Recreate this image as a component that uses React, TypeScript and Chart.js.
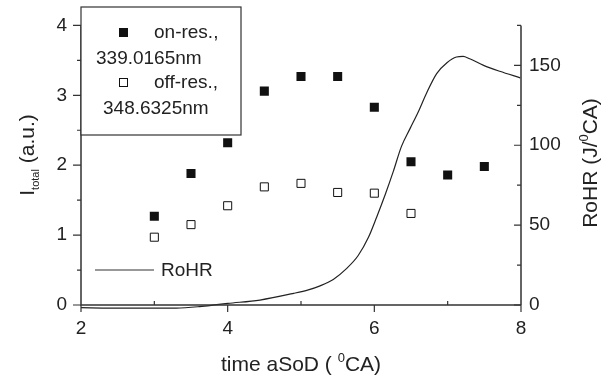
import React, { useEffect, useRef } from "react";
import { Chart, registerables } from "chart.js";

Chart.register(...registerables);

// ---- data ----
const onX = [3, 3.5, 4, 4.5, 5, 5.5, 6, 6.5, 7, 7.5];
const onY = [1.27, 1.88, 2.32, 3.06, 3.27, 3.27, 2.83, 2.05, 1.86, 1.98];
const offX = [3, 3.5, 4, 4.5, 5, 5.5, 6, 6.5];
const offY = [0.97, 1.15, 1.42, 1.69, 1.74, 1.61, 1.6, 1.31];
const rohrX = [2.0, 2.4, 2.85, 3.3, 3.62, 3.85, 4.0, 4.44, 4.9, 5.1, 5.26, 5.44, 5.62, 5.78, 5.92, 6.03, 6.15, 6.26, 6.37, 6.49, 6.6, 6.71, 6.85, 6.99, 7.12, 7.21, 7.3, 7.49, 7.71, 7.99];
const rohrY = [-1.7, -2, -1.9, -1.9, -1, 0.2, 1, 3.1, 7.3, 9.5, 12, 16, 22.8, 31, 42.4, 54.8, 69.3, 83.8, 99.3, 110.7, 121, 132.4, 144.8, 151.6, 155.2, 155.6, 154.1, 150, 146.3, 142.2];

const xTicks = [2, 4, 6, 8];
const xMinor = [3, 5, 7];
const yTicks = [0, 1, 2, 3, 4];
const yMinor = [0.5, 1.5, 2.5, 3.5];
const y2Ticks = [0, 50, 100, 150];
const y2Minor = [25, 75, 125, 175];

const onLabel = ["on-res.,", "339.0165nm"];
const offLabel = ["off-res.,", "348.6325nm"];
const rohrLabel = "RoHR";

const FONT = "'Liberation Sans', Arial, Helvetica, sans-serif";
const INK = "#222";
const AXIS = "#333";

const decorPlugin = {
  id: "decor",
  afterDatasetsDraw(chart: any) {
    const ctx = chart.ctx;
    const { left, right, top, bottom } = chart.chartArea;
    const sx = chart.scales.x;
    const sy = chart.scales.y;
    const sy2 = chart.scales.y2;
    ctx.save();
    ctx.strokeStyle = AXIS;
    ctx.lineWidth = 1.5;
    // axis lines
    ctx.beginPath();
    ctx.moveTo(left, top);
    ctx.lineTo(left, bottom);
    ctx.lineTo(right, bottom);
    ctx.moveTo(right, top);
    ctx.lineTo(right, bottom);
    ctx.stroke();
    ctx.lineWidth = 1.2;
    ctx.beginPath();
    // left ticks (outward)
    yTicks.forEach((v) => { const p = sy.getPixelForValue(v); ctx.moveTo(left - 8, p); ctx.lineTo(left, p); });
    yMinor.forEach((v) => { const p = sy.getPixelForValue(v); ctx.moveTo(left - 4, p); ctx.lineTo(left, p); });
    // bottom ticks
    xTicks.forEach((v) => { const p = sx.getPixelForValue(v); ctx.moveTo(p, bottom); ctx.lineTo(p, bottom + 7); });
    xMinor.forEach((v) => { const p = sx.getPixelForValue(v); ctx.moveTo(p, bottom - 4); ctx.lineTo(p, bottom); });
    // right ticks (inward)
    y2Ticks.forEach((v) => { const p = sy2.getPixelForValue(v); ctx.moveTo(right - 7, p); ctx.lineTo(right, p); });
    y2Minor.forEach((v) => { const p = sy2.getPixelForValue(v); ctx.moveTo(right - 4, p); ctx.lineTo(right, p); });
    ctx.stroke();

    // legend box
    const bx = left, by = 7, bw = 160, bh = 128;
    ctx.fillStyle = "#fff";
    ctx.fillRect(bx, by, bw, bh);
    ctx.lineWidth = 1.2;
    ctx.strokeStyle = AXIS;
    ctx.strokeRect(bx, by, bw, bh);

    ctx.fillStyle = INK;
    ctx.font = `19px ${FONT}`;
    ctx.textBaseline = "middle";
    ctx.textAlign = "left";
    // filled square
    ctx.fillStyle = "#111";
    ctx.fillRect(bx + 38, by + 21, 9, 9);
    ctx.fillStyle = INK;
    ctx.fillText(onLabel[0], bx + 73, by + 26);
    ctx.fillText(onLabel[1], bx + 15, by + 52);
    // open square
    ctx.fillStyle = "#fff";
    ctx.fillRect(bx + 38.5, by + 71.5, 8, 8);
    ctx.strokeStyle = "#111";
    ctx.lineWidth = 1;
    ctx.strokeRect(bx + 38.5, by + 71.5, 8, 8);
    ctx.fillStyle = INK;
    ctx.fillText(offLabel[0], bx + 73, by + 76);
    ctx.fillText(offLabel[1], bx + 22, by + 102);

    // RoHR legend
    ctx.strokeStyle = AXIS;
    ctx.lineWidth = 1.2;
    ctx.beginPath();
    ctx.moveTo(95, 270);
    ctx.lineTo(154, 270);
    ctx.stroke();
    ctx.fillText(rohrLabel, 161, 271);

    // x title
    ctx.textBaseline = "alphabetic";
    const big = `21px ${FONT}`;
    const small = `13px ${FONT}`;
    const xParts: [string, string, number][] = [["time aSoD ( ", big, 0], ["0", small, -9], ["CA)", big, 0]];
    const measure = (parts: [string, string, number][]) =>
      parts.reduce((w, p) => { ctx.font = p[1]; return w + ctx.measureText(p[0]).width; }, 0);
    let w = measure(xParts);
    let cx = (left + right) / 2 - w / 2;
    xParts.forEach((p) => { ctx.font = p[1]; ctx.fillText(p[0], cx, 371 + p[2]); cx += ctx.measureText(p[0]).width; });

    // left title (rotated)
    const lParts: [string, string, number][] = [["I", big, 0], ["total", `11px ${FONT}`, 5], [" (a.u.)", big, 0]];
    w = measure(lParts);
    ctx.save();
    ctx.translate(34, 155);
    ctx.rotate(-Math.PI / 2);
    let lx = -w / 2;
    lParts.forEach((p) => { ctx.font = p[1]; ctx.fillText(p[0], lx, p[2]); lx += ctx.measureText(p[0]).width; });
    ctx.restore();

    // right title (rotated)
    const rParts: [string, string, number][] = [["RoHR (J/", big, 0], ["0", small, -9], ["CA)", big, 0]];
    w = measure(rParts);
    ctx.save();
    ctx.translate(597, 163);
    ctx.rotate(-Math.PI / 2);
    let rx = -w / 2;
    rParts.forEach((p) => { ctx.font = p[1]; ctx.fillText(p[0], rx, p[2]); rx += ctx.measureText(p[0]).width; });
    ctx.restore();

    ctx.restore();
  },
};

export default function App() {
  const ref = useRef<HTMLCanvasElement>(null);
  useEffect(() => {
    document.body.style.margin = "0";
    const tickFont = { family: FONT, size: 19 };
    const chart = new Chart(ref.current as HTMLCanvasElement, {
      type: "scatter",
      data: {
        datasets: [
          {
            type: "line",
            label: rohrLabel,
            data: rohrX.map((x, i) => ({ x, y: rohrY[i] })),
            yAxisID: "y2",
            borderColor: "#222",
            borderWidth: 1.2,
            pointRadius: 0,
            tension: 0.4,
            cubicInterpolationMode: "monotone",
            fill: false,
            clip: false as any,
            order: 3,
          } as any,
          {
            label: onLabel.join(" "),
            data: onX.map((x, i) => ({ x, y: onY[i] })),
            yAxisID: "y",
            pointStyle: "rect",
            pointRadius: 6.4,
            backgroundColor: "#111",
            borderColor: "#111",
            borderWidth: 0,
            order: 1,
          },
          {
            label: offLabel.join(" "),
            data: offX.map((x, i) => ({ x, y: offY[i] })),
            yAxisID: "y",
            pointStyle: "rect",
            pointRadius: 5.7,
            backgroundColor: "#fff",
            borderColor: "#111",
            borderWidth: 1,
            order: 2,
          },
        ],
      },
      options: {
        animation: false,
        responsive: false,
        devicePixelRatio: 1,
        layout: { padding: { top: 23, left: 0, right: 0, bottom: 0 } },
        plugins: { legend: { display: false }, tooltip: { enabled: false } },
        scales: {
          x: {
            type: "linear",
            position: "bottom",
            min: 2,
            max: 8,
            grid: { display: false, drawTicks: false },
            border: { display: false },
            ticks: { font: tickFont, color: INK, padding: 12, maxRotation: 0 },
            afterBuildTicks: (s: any) => { s.ticks = xTicks.map((v) => ({ value: v })); },
            afterFit: (s: any) => { s.height = 73; },
          },
          y: {
            type: "linear",
            position: "left",
            min: 0,
            max: 4,
            grid: { display: false, drawTicks: false },
            border: { display: false },
            ticks: { font: tickFont, color: INK, padding: 14 },
            afterBuildTicks: (s: any) => { s.ticks = yTicks.map((v) => ({ value: v })); },
            afterFit: (s: any) => { s.width = 81; },
          },
          y2: {
            type: "linear",
            position: "right",
            min: 0,
            max: 175,
            grid: { display: false, drawTicks: false },
            border: { display: false },
            ticks: { font: tickFont, color: INK, padding: 8 },
            afterBuildTicks: (s: any) => { s.ticks = y2Ticks.map((v) => ({ value: v })); },
            afterFit: (s: any) => { s.width = 90; },
          },
        },
      },
      plugins: [decorPlugin],
    });
    return () => chart.destroy();
  }, []);
  return (
    <div style={{ position: "absolute", left: 0, top: 0, width: 611, height: 378 }}>
      <canvas ref={ref} width={611} height={378} style={{ width: 611, height: 378 }} />
    </div>
  );
}
